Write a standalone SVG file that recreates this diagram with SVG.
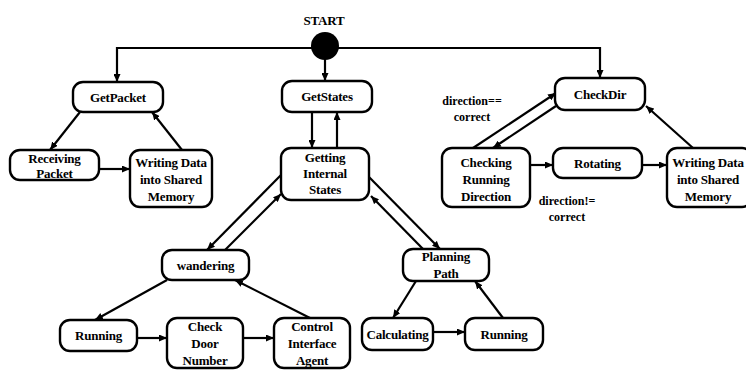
<svg xmlns="http://www.w3.org/2000/svg" width="746" height="370" viewBox="0 0 746 370">
  <defs>
    <style>
      .box { fill: #ffffff; stroke: #000000; stroke-width: 2.4; }
      .lbl { font-family: "Liberation Serif", "DejaVu Serif", serif; font-weight: bold; font-size: 13px; fill: #000000; text-anchor: middle; letter-spacing: -0.2px; }
      .note { font-family: "Liberation Serif", "DejaVu Serif", serif; font-weight: bold; font-size: 12px; fill: #000000; text-anchor: middle; }
      .edge { fill: none; stroke: #000000; stroke-width: 2.2; marker-end: url(#arrow); }
    </style>
    <marker id="arrow" markerUnits="userSpaceOnUse" markerWidth="8" markerHeight="7" refX="8" refY="3.5" orient="auto">
      <path d="M0,0 L8,3.5 L0,7 z" fill="#000000"/>
    </marker>
  </defs>
  <rect width="746" height="370" fill="#ffffff"/>

  <!-- transitions -->
  <g id="connectors">
    <path class="edge" d="M325,48 H117 V82"/>
    <path class="edge" d="M325,48 H600 V78"/>
    <path class="edge" d="M325,58 V81"/>
    <path class="edge" d="M80,112 L50,150"/>
    <path class="edge" d="M182,150 L152,112"/>
    <path class="edge" d="M99,169 L130,169"/>
    <path class="edge" d="M312,112 L312,148"/>
    <path class="edge" d="M337,148 L337,112"/>
    <path class="edge" d="M281,175 L207,250"/>
    <path class="edge" d="M225,250 L281,194"/>
    <path class="edge" d="M369,177 L440,249"/>
    <path class="edge" d="M423,249 L371,196"/>
    <path class="edge" d="M167,280 L95,320"/>
    <path class="edge" d="M310,318 L235,280"/>
    <path class="edge" d="M137,338 L167,338"/>
    <path class="edge" d="M243,338 L274,338"/>
    <path class="edge" d="M416,281 L393,318"/>
    <path class="edge" d="M503,318 L475,281"/>
    <path class="edge" d="M433,332 L465,332"/>
    <path class="edge" d="M473,148 L556,93"/>
    <path class="edge" d="M556,106 L493,148"/>
    <path class="edge" d="M530,165 L553,165"/>
    <path class="edge" d="M642,165 L667,165"/>
    <path class="edge" d="M693,148 L646,106"/>
  </g>

  <!-- guard labels -->
  <g id="guards">
    <text class="note" x="472" y="105">direction==</text>
    <text class="note" x="472" y="121">correct</text>
    <text class="note" x="567" y="205">direction!=</text>
    <text class="note" x="567" y="221">correct</text>
  </g>

  <g id="start">
    <circle cx="325" cy="46" r="14" fill="#000000"/>
    <text class="lbl" x="324" y="25">START</text>
  </g>

  <g id="getPacket">
    <rect class="box" x="73" y="82" width="90" height="30" rx="10"/>
    <text class="lbl" x="118" y="101.5">GetPacket</text>
  </g>
  <g id="receivingPacket">
    <rect class="box" x="10" y="150" width="89" height="30" rx="10"/>
    <text class="lbl" x="54.5" y="163">Receiving</text>
    <text class="lbl" x="54.5" y="178">Packet</text>
  </g>
  <g id="writingDataPacket">
    <rect class="box" x="130" y="150" width="82" height="57" rx="10"/>
    <text class="lbl" x="171" y="167">Writing Data</text>
    <text class="lbl" x="171" y="184">into Shared</text>
    <text class="lbl" x="171" y="201">Memory</text>
  </g>

  <g id="getStates">
    <rect class="box" x="282" y="81" width="90" height="31" rx="10"/>
    <text class="lbl" x="327" y="101">GetStates</text>
  </g>
  <g id="gettingInternalStates">
    <rect class="box" x="281" y="148" width="88" height="52" rx="10"/>
    <text class="lbl" x="325" y="162">Getting</text>
    <text class="lbl" x="325" y="178">Internal</text>
    <text class="lbl" x="325" y="194">States</text>
  </g>
  <g id="wandering">
    <rect class="box" x="162" y="250" width="87" height="30" rx="10"/>
    <text class="lbl" x="205.5" y="269.5">wandering</text>
  </g>
  <g id="runningWander">
    <rect class="box" x="60" y="320" width="77" height="31" rx="10"/>
    <text class="lbl" x="98.5" y="340">Running</text>
  </g>
  <g id="checkDoorNumber">
    <rect class="box" x="167" y="318" width="76" height="50" rx="10"/>
    <text class="lbl" x="205" y="331">Check</text>
    <text class="lbl" x="205" y="348">Door</text>
    <text class="lbl" x="205" y="365">Number</text>
  </g>
  <g id="controlInterfaceAgent">
    <rect class="box" x="274" y="318" width="76" height="50" rx="10"/>
    <text class="lbl" x="312" y="331">Control</text>
    <text class="lbl" x="312" y="348">Interface</text>
    <text class="lbl" x="312" y="365">Agent</text>
  </g>
  <g id="planningPath">
    <rect class="box" x="403" y="249" width="86" height="32" rx="10"/>
    <text class="lbl" x="446" y="261">Planning</text>
    <text class="lbl" x="446" y="278">Path</text>
  </g>
  <g id="calculating">
    <rect class="box" x="362" y="318" width="71" height="32" rx="10"/>
    <text class="lbl" x="397.5" y="338.5">Calculating</text>
  </g>
  <g id="runningPath">
    <rect class="box" x="465" y="318" width="78" height="32" rx="10"/>
    <text class="lbl" x="504" y="338.5">Running</text>
  </g>

  <g id="checkDir">
    <rect class="box" x="555" y="78" width="90" height="32" rx="10"/>
    <text class="lbl" x="600" y="98.5">CheckDir</text>
  </g>
  <g id="checkingRunningDirection">
    <rect class="box" x="442" y="148" width="88" height="59" rx="10"/>
    <text class="lbl" x="486" y="167">Checking</text>
    <text class="lbl" x="486" y="184">Running</text>
    <text class="lbl" x="486" y="201">Direction</text>
  </g>
  <g id="rotating">
    <rect class="box" x="553" y="148" width="89" height="30" rx="10"/>
    <text class="lbl" x="597.5" y="167.5">Rotating</text>
  </g>
  <g id="writingDataDir">
    <rect class="box" x="667" y="148" width="85" height="59" rx="10"/>
    <text class="lbl" x="708" y="167">Writing Data</text>
    <text class="lbl" x="708" y="184">into Shared</text>
    <text class="lbl" x="708" y="201">Memory</text>
  </g>
</svg>
